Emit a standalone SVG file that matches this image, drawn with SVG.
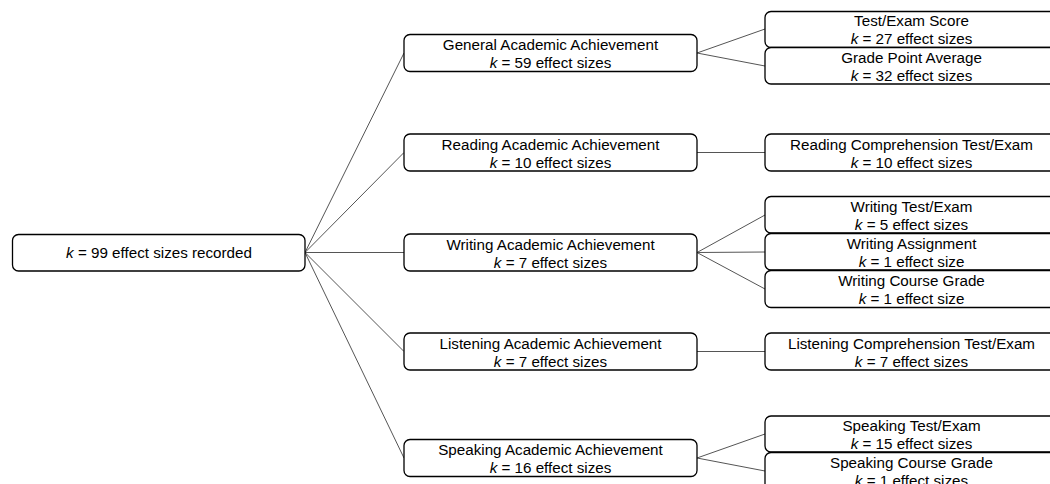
<svg xmlns="http://www.w3.org/2000/svg" width="1050" height="484" viewBox="0 0 1050 484">
<style>
.box{fill:#fff;stroke:#000;stroke-width:1.3}
.t{font-family:"Liberation Sans",Arial,sans-serif;font-size:15.2px;fill:#000;text-anchor:middle}
.i{font-style:italic}
.c{stroke:#555;stroke-width:1;fill:none}
</style>
<rect width="1050" height="484" fill="#fff"/>
<g id="connectors">
<path class="c" d="M305,252.5 L404,53 M305,252.5 L404,152.5 M305,252.5 L404,252.5 M305,252.5 L404,351.5 M305,252.5 L404,458"/>
<path class="c" d="M697,53 L765,29 M697,53 L765,66 M697,152.5 L765,152.5 M697,252.5 L765,215 M697,252.5 L765,252 M697,252.5 L765,289 M697,351.5 L765,351.5 M697,458 L765,434 M697,458 L765,471"/>
</g>
<g id="root"><rect class="box" x="12.5" y="234.5" width="292.5" height="36.5" rx="6"/><text class="t" x="159" y="258"><tspan class="i">k</tspan> = 99 effect sizes recorded</text></g>
<g id="general"><rect class="box" x="404" y="34.5" width="293" height="37" rx="6"/><text class="t" x="550.5" y="50"><tspan>General Academic Achievement</tspan><tspan x="550.5" y="68"><tspan class="i">k</tspan> = 59 effect sizes</tspan></text></g>
<g id="reading"><rect class="box" x="404" y="134" width="293" height="37" rx="6"/><text class="t" x="550.5" y="149.5">Reading Academic Achievement<tspan x="550.5" y="167.5"><tspan class="i">k</tspan> = 10 effect sizes</tspan></text></g>
<g id="writing"><rect class="box" x="404" y="234" width="293" height="37" rx="6"/><text class="t" x="550.5" y="249.5">Writing Academic Achievement<tspan x="550.5" y="267.5"><tspan class="i">k</tspan> = 7 effect sizes</tspan></text></g>
<g id="listening"><rect class="box" x="404" y="333" width="293" height="37" rx="6"/><text class="t" x="550.5" y="348.5">Listening Academic Achievement<tspan x="550.5" y="366.5"><tspan class="i">k</tspan> = 7 effect sizes</tspan></text></g>
<g id="speaking"><rect class="box" x="404" y="439.5" width="293" height="37" rx="6"/><text class="t" x="550.5" y="455">Speaking Academic Achievement<tspan x="550.5" y="473"><tspan class="i">k</tspan> = 16 effect sizes</tspan></text></g>
<g id="test-exam"><rect class="box" x="765" y="11.5" width="293" height="36" rx="6"/><text class="t" x="911.5" y="26">Test/Exam Score<tspan x="911.5" y="44"><tspan class="i">k</tspan> = 27 effect sizes</tspan></text></g>
<g id="gpa"><rect class="box" x="765" y="47.5" width="293" height="36.5" rx="6"/><text class="t" x="911.5" y="62.5">Grade Point Average<tspan x="911.5" y="80.5"><tspan class="i">k</tspan> = 32 effect sizes</tspan></text></g>
<g id="reading-comp"><rect class="box" x="765" y="134" width="293" height="37" rx="6"/><text class="t" x="911.5" y="149.5">Reading Comprehension Test/Exam<tspan x="911.5" y="167.5"><tspan class="i">k</tspan> = 10 effect sizes</tspan></text></g>
<g id="writing-test"><rect class="box" x="765" y="196.5" width="293" height="36.5" rx="6"/><text class="t" x="911.5" y="211.5">Writing Test/Exam<tspan x="911.5" y="229.5"><tspan class="i">k</tspan> = 5 effect sizes</tspan></text></g>
<g id="writing-assignment"><rect class="box" x="765" y="233.5" width="293" height="36.5" rx="6"/><text class="t" x="911.5" y="248.5">Writing Assignment<tspan x="911.5" y="266.5"><tspan class="i">k</tspan> = 1 effect size</tspan></text></g>
<g id="writing-course"><rect class="box" x="765" y="270.5" width="293" height="37" rx="6"/><text class="t" x="911.5" y="285.5">Writing Course Grade<tspan x="911.5" y="303.5"><tspan class="i">k</tspan> = 1 effect size</tspan></text></g>
<g id="listening-comp"><rect class="box" x="765" y="333" width="293" height="37" rx="6"/><text class="t" x="911.5" y="348.5">Listening Comprehension Test/Exam<tspan x="911.5" y="366.5"><tspan class="i">k</tspan> = 7 effect sizes</tspan></text></g>
<g id="speaking-test"><rect class="box" x="765" y="416" width="293" height="36" rx="6"/><text class="t" x="911.5" y="430.5">Speaking Test/Exam<tspan x="911.5" y="448.5"><tspan class="i">k</tspan> = 15 effect sizes</tspan></text></g>
<g id="speaking-course"><rect class="box" x="765" y="452.5" width="293" height="37" rx="6"/><text class="t" x="911.5" y="467.5">Speaking Course Grade<tspan x="911.5" y="485.5"><tspan class="i">k</tspan> = 1 effect sizes</tspan></text></g>
</svg>
